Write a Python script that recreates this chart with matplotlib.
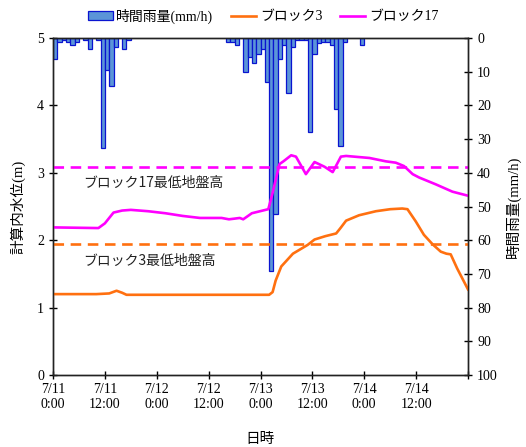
import matplotlib
matplotlib.use("Agg")
import matplotlib.pyplot as plt
from matplotlib.patches import Patch
from matplotlib.lines import Line2D

plt.rcParams['font.family'] = ['Liberation Serif', 'Noto Sans CJK JP']

# --- data ---
x_tick_hours = [0, 12, 24, 36, 48, 60, 72, 84]
x_tick_labels = ["7/11\n0:00", "7/11\n12:00", "7/12\n0:00", "7/12\n12:00",
                 "7/13\n0:00", "7/13\n12:00", "7/14\n0:00", "7/14\n12:00"]

rain_hours = [0, 1, 2, 3, 4, 5, 7, 8, 10, 11, 12, 13, 14, 16, 17,
              40, 41, 42, 44, 45, 46, 47, 48, 49, 50, 51, 52, 53, 54, 55,
              56, 57, 58, 59, 60, 61, 62, 63, 64, 65, 66, 67, 71]
rain_mm = [6.1, 1.3, 0.7, 1.3, 2.1, 1.3, 0.7, 3.3, 0.7, 32.6, 9.5, 14.2, 2.8, 3.4, 0.6,
           1.2, 1.2, 2.1, 10.2, 5.5, 7.3, 4.7, 3.4, 13.1, 69.1, 52.1, 6.1, 2.0, 16.2, 2.8,
           0.6, 0.6, 0.6, 28.0, 4.7, 1.6, 1.2, 1.2, 2.1, 21.2, 32.1, 1.2, 2.1]

b17_hours = [0, 10.5, 12, 14, 16, 18, 22, 26, 30, 34, 39, 40.7, 42, 43.2, 44, 46, 49.8,
             50.6, 52.4, 53.3, 55.1, 56.2, 58.5, 60.5, 62.8, 64.7, 66.6, 67.8, 73.2, 77,
             79.3, 81.2, 83.2, 84.7, 88.5, 92.4, 96]
b17_level = [2.19, 2.18, 2.25, 2.41, 2.44, 2.45, 2.43, 2.40, 2.36, 2.33, 2.33, 2.31, 2.32, 2.33, 2.31, 2.40, 2.46,
             2.65, 3.13, 3.17, 3.26, 3.24, 2.98, 3.16, 3.09, 3.01, 3.24, 3.25, 3.22, 3.17,
             3.15, 3.10, 2.98, 2.93, 2.83, 2.72, 2.66]

b3_hours = [0, 10, 13, 14.7, 16, 17, 50, 50.8, 51.5, 52.8, 55.5, 58.9, 60.5, 63, 65.5, 66.5,
            67.8, 70.8, 74.7, 78, 80.8, 82, 83.9, 85.8, 87.8, 89.7, 91, 92, 93.5, 96]
b3_level = [1.20, 1.20, 1.21, 1.25, 1.22, 1.19, 1.19, 1.23, 1.40, 1.61, 1.80, 1.93, 2.01, 2.06, 2.10, 2.18,
            2.29, 2.37, 2.43, 2.46, 2.47, 2.46, 2.28, 2.08, 1.94, 1.83, 1.80, 1.79, 1.58, 1.27]

b17_ground = 3.09
b3_ground = 1.94

c_b3 = '#FF7010'
c_b17 = '#FF00FF'

fig = plt.figure(figsize=(5.26, 4.47), dpi=100)
ax = fig.add_axes([53/526, 72/447, 415/526, 337/447])
ax2 = ax.twinx()

ax2.bar(rain_hours, rain_mm, width=1.0, align='edge', color='#5B95D8',
        edgecolor='#0A14D0', linewidth=0.9)
ax2.set_ylim(100, 0)
ax2.set_yticks(range(0, 101, 10))

ax.set_zorder(ax2.get_zorder() + 1)
ax.patch.set_visible(False)

ax.plot(b3_hours, b3_level, color=c_b3, lw=1.9)
ax.plot(b17_hours, b17_level, color=c_b17, lw=1.9)
ax.axhline(b17_ground, color=c_b17, lw=1.9, ls=(0, (4, 2.5)))
ax.axhline(b3_ground, color=c_b3, lw=1.9, ls=(0, (4, 2.5)))

ax.text(7.0, b17_ground - 0.14, 'ブロック17最低地盤高', family=['Noto Sans CJK JP'],
        fontsize=10, va='top', ha='left', color='#222222')
ax.text(7.0, b3_ground - 0.14, 'ブロック3最低地盤高', family=['Noto Sans CJK JP'],
        fontsize=10, va='top', ha='left', color='#222222')

ax.set_xlim(0, 96)
ax.set_ylim(0, 5)
ax.set_xticks(x_tick_hours + [96])
ax.set_xticklabels(x_tick_labels + [""])
ax.set_yticks(range(0, 6))

for a in (ax, ax2):
    a.tick_params(direction='inout', length=6, width=1, labelsize=10, colors='black')
    for s in a.spines.values():
        s.set_color('#222222')
        s.set_linewidth(1.0)
ax.tick_params(axis='x', pad=3)

ax.set_ylabel('計算内水位(m)', fontsize=10.5, labelpad=8)
ax2.set_ylabel('時間雨量(mm/h)', fontsize=10.5, labelpad=6)
ax.set_xlabel('日時', family=['Noto Sans CJK JP'], fontsize=10.5, labelpad=15)

handles = [Patch(facecolor='#5B95D8', edgecolor='#0A14D0', linewidth=0.9),
           Line2D([], [], color=c_b3, lw=1.9),
           Line2D([], [], color=c_b17, lw=1.9)]
labels = ['時間雨量(mm/h)', 'ブロック3', 'ブロック17']
fig.legend(handles, labels, loc='center', bbox_to_anchor=(0.5, 1 - 16/447),
           ncol=3, frameon=False, fontsize=10, handlelength=1.8, columnspacing=1.3,
           handletextpad=0.25, borderaxespad=0)

fig.savefig('out.png', dpi=100)
